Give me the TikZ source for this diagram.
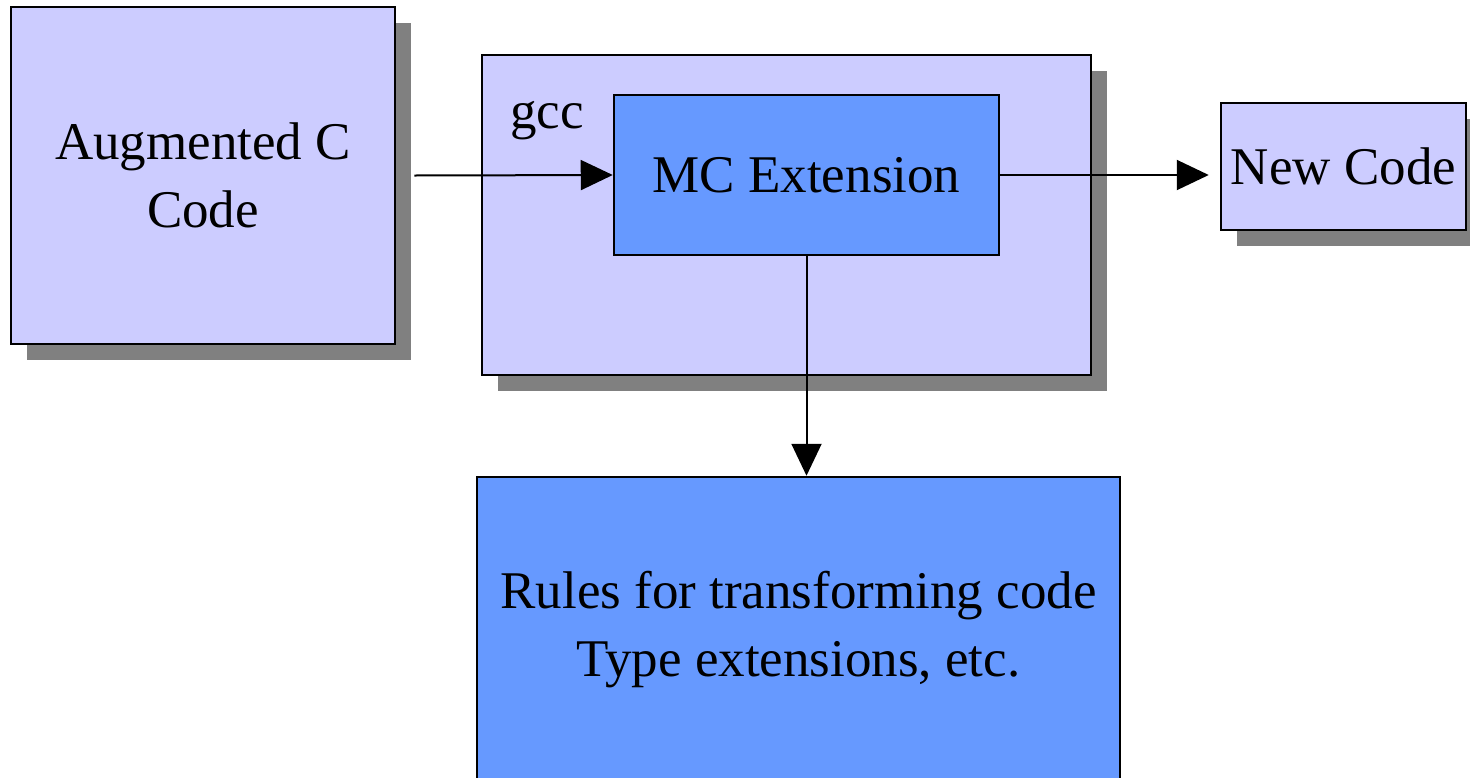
\documentclass[tikz,border=0pt]{standalone}
\usepackage{fontspec}
\setmainfont{Liberation Serif}
\usetikzlibrary{arrows.meta,shadows}
\definecolor{lav}{HTML}{CCCCFF}
\definecolor{bluebox}{HTML}{6699FF}
\definecolor{shade}{HTML}{808080}
\begin{document}
\begin{tikzpicture}[x=1pt,y=-1pt,
  boxbase/.style={draw=black,line width=2.5pt,rectangle,align=center,inner sep=0pt,
     font=\fontsize{53}{68}\selectfont},
  lavbox/.style={boxbase,fill=lav,
     drop shadow={shadow xshift=16pt,shadow yshift=-16pt,fill=shade,opacity=1}},
  bluefill/.style={boxbase,fill=bluebox},
  conn/.style={draw=black,line width=2pt,-{Triangle[length=32pt,width=30pt]}}]
\useasboundingbox (0,0) rectangle (1470,777);
\clip (0,0) rectangle (1470,777);
\fill[white] (0,0) rectangle (1470,777);
% boxes
\node[lavbox,minimum width=384pt,minimum height=337pt] (aug) at (203,175.5) {Augmented C\\Code};
\node[lavbox,minimum width=609pt,minimum height=320pt] (gcc) at (786.5,215) {};
\node[font=\fontsize{53}{68}\selectfont,anchor=base west,inner sep=0pt] (gcclabel) at (510,128) {gcc};
\node[bluefill,minimum width=385pt,minimum height=160pt] (mc) at (806.5,175) {MC Extension};
\node[lavbox,minimum width=245pt,minimum height=127pt] (new) at (1343.5,166.5) {New Code};
\node[bluefill,minimum width=643pt,minimum height=306pt] (rules) at (798.5,630) {Rules for transforming code\\Type extensions, etc.};
% connectors
\coordinate (instart) at ([xshift=18pt]aug.east);
\coordinate (outend) at ([xshift=-11pt]new.west |- mc.east);
\draw[conn] (instart) -- (mc.west);
\draw[conn] (mc.east) -- (outend);
\draw[conn] (mc.south) -- (mc.south |- rules.north);
\end{tikzpicture}
\end{document}
